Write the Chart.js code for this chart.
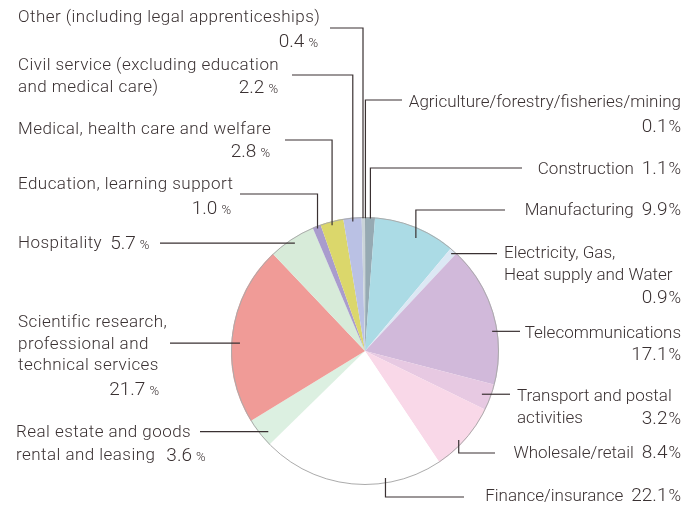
<!DOCTYPE html>
<html>
<head>
<meta charset="utf-8">
<script src="https://cdn.jsdelivr.net/npm/chart.js@4.4.1/dist/chart.umd.min.js"></script>
<style>
html,body{margin:0;padding:0;background:#fff;}
#wrap{width:687px;height:509px;position:relative;}
</style>
</head>
<body>
<div id="wrap"><canvas id="c" width="687" height="509"></canvas></div>
<script>
// ---- data ----
const categories = [
  ["Agriculture/forestry/fisheries/mining"],
  ["Construction"],
  ["Manufacturing"],
  ["Electricity, Gas,", "Heat supply and Water"],
  ["Telecommunications"],
  ["Transport and postal", "activities"],
  ["Wholesale/retail"],
  ["Finance/insurance"],
  ["Real estate and goods", "rental and leasing"],
  ["Scientific research,", "professional and", "technical services"],
  ["Hospitality"],
  ["Education, learning support"],
  ["Medical, health care and welfare"],
  ["Civil service (excluding education", "and medical care)"],
  ["Other (including legal apprenticeships)"]
];
const shares = [0.1, 1.1, 9.9, 0.9, 17.1, 3.2, 8.4, 22.1, 3.6, 21.7, 5.7, 1.0, 2.8, 2.2, 0.4];
const shareLabels = ["0.1", "1.1", "9.9", "0.9", "17.1", "3.2", "8.4", "22.1", "3.6", "21.7", "5.7", "1.0", "2.8", "2.2", "0.4"];
const sliceColors = ["#7e939b", "#96aab3", "#abdbe5", "#dce8f4", "#d1b9da", "#e7c9e2", "#f9d8e8", "#ffffff",
                     "#dcf0e1", "#f09b97", "#d7ebd9", "#a99ccd", "#dbd76b", "#bac1e4", "#cad4d9"];

// ---- label layout (positions only) ----
const R_PCT = {size:17, sep:1};
const L_PCT = {size:13, sep:4};
const R_SP = '0px', L_SP = '0.45px';
const layout = [
  {x:681, align:'right', sp:R_SP, ys:[107], pct:{x:681, y:132, align:'right', st:R_PCT}, lead:{f:0.5, rf:0.99, type:'v', ey:100, ex:402}},
  {inlineRight:true, sp:R_SP, ys:[174], pct:{x:681, y:174, align:'right', st:R_PCT}, lead:{f:0.5, rf:0.99, type:'v', ey:168, ex:522}},
  {inlineRight:true, sp:R_SP, ys:[215], pct:{x:681, y:215, align:'right', st:R_PCT}, lead:{f:0.56, rf:0.925, type:'v', ey:210, ex:505}},
  {x:504, align:'left', sp:R_SP, ys:[258, 280], pct:{x:681, y:303, align:'right', st:R_PCT}, lead:{f:0.5, rf:0.97, type:'h', ex:497}},
  {x:681, align:'right', sp:R_SP, ys:[338], pct:{x:681, y:360, align:'right', st:R_PCT}, lead:{f:0.62, rf:0.96, type:'h', ex:520}},
  {x:517, align:'left', sp:R_SP, ys:[401, 423], pct:{x:681, y:424, align:'right', st:R_PCT}, lead:{f:0.5, rf:0.93, type:'h', ex:510}},
  {inlineRight:true, sp:R_SP, ys:[458], pct:{x:681, y:458, align:'right', st:R_PCT}, lead:{f:0.58, rf:0.965, type:'v', ey:453, ex:495}},
  {inlineRight:true, sp:R_SP, ys:[501], pct:{x:681, y:501, align:'right', st:R_PCT}, lead:{f:0.31, rf:0.96, type:'v', ey:497, ex:464}},
  {x:16, align:'left', sp:L_SP, ys:[437, 460], inlineLeft:true, gap:11, pct:{y:461, st:L_PCT}, lead:{f:0.35, rf:0.94, type:'h', ex:200}},
  {x:18, align:'left', sp:L_SP, ys:[327, 349, 370], pct:{x:159, y:395, align:'right', st:L_PCT}, lead:{f:0.45, rf:0.935, type:'h', ex:170}},
  {x:18, align:'left', sp:L_SP, ys:[248], inlineLeft:true, gap:8, pct:{y:249, st:L_PCT}, lead:{f:0.51, rf:0.96, type:'h', ex:160}},
  {x:18, align:'left', sp:L_SP, ys:[189], pct:{x:231, y:214, align:'right', st:L_PCT}, lead:{f:0.5, rf:0.98, type:'v', ey:194, ex:240}},
  {x:18, align:'left', sp:L_SP, ys:[134], pct:{x:270, y:157, align:'right', st:L_PCT}, lead:{f:0.47, rf:0.97, type:'v', ey:140, ex:285}},
  {x:18, align:'left', sp:L_SP, ys:[70, 92], pct:{x:278, y:93, align:'right', st:L_PCT}, lead:{f:0.5, rf:0.97, type:'v', ey:75, ex:292}},
  {x:18, align:'left', sp:L_SP, ys:[22], pct:{x:318, y:47, align:'right', st:L_PCT}, lead:{f:0.4, rf:0.99, type:'v', ey:28, ex:330}}
];

const FAM = "'Roboto', 'Liberation Sans', sans-serif";
const TXT = '300 17px ' + FAM;
const NUM = '300 19px ' + FAM;
const INK = '#3a3132';

function drawPct(ctx, label, x, y, align, st) {
  ctx.letterSpacing = '0px';
  const pf = '300 ' + st.size + 'px ' + FAM;
  ctx.font = NUM; const wn = ctx.measureText(label).width;
  ctx.font = pf; const wp = ctx.measureText('%').width;
  const total = wn + st.sep + wp;
  const left = align === 'right' ? x - total : x;
  ctx.textAlign = 'left';
  ctx.font = NUM; ctx.fillText(label, left, y);
  ctx.font = pf; ctx.fillText('%', left + wn + st.sep, y);
  return {left, right: left + total};
}

function setText(ctx, align, sp) {
  ctx.font = TXT;
  ctx.letterSpacing = sp;
  ctx.textAlign = align;
}

const labelPlugin = {
  id: 'labels',
  afterDatasetsDraw(chart) {
    const ctx = chart.ctx;
    const arcs = chart.getDatasetMeta(0).data;
    // outer rim
    const a0 = arcs[0];
    ctx.save();
    ctx.beginPath();
    ctx.arc(a0.x, a0.y, a0.outerRadius - 0.5, 0, Math.PI * 2);
    ctx.strokeStyle = '#ababab';
    ctx.lineWidth = 1;
    ctx.stroke();
    ctx.restore();

    ctx.save();
    ctx.fillStyle = INK;
    ctx.strokeStyle = INK;
    ctx.lineWidth = 1.2;
    ctx.textBaseline = 'alphabetic';
    arcs.forEach((arc, i) => {
      const L = layout[i];
      const lines = chart.data.labels[i];
      const pl = shareLabels[i];
      // leader line anchored on the slice geometry
      const ang = arc.startAngle + (arc.endAngle - arc.startAngle) * L.lead.f;
      const r = arc.outerRadius * L.lead.rf;
      const px = arc.x + Math.cos(ang) * r;
      const py = arc.y + Math.sin(ang) * r;
      ctx.beginPath();
      ctx.moveTo(px, py);
      if (L.lead.type === 'v') {
        ctx.lineTo(px, L.lead.ey);
        ctx.lineTo(L.lead.ex, L.lead.ey);
      } else {
        ctx.lineTo(L.lead.ex, py);
      }
      ctx.stroke();
      // text
      if (L.inlineRight) {
        const p = drawPct(ctx, pl, L.pct.x, L.pct.y, 'right', L.pct.st);
        setText(ctx, 'right', L.sp);
        ctx.fillText(lines[0], p.left - 8, L.ys[0]);
      } else {
        lines.forEach((t, k) => { setText(ctx, L.align, L.sp); ctx.fillText(t, L.x, L.ys[k]); });
        if (L.inlineLeft) {
          setText(ctx, 'left', L.sp);
          const w = ctx.measureText(lines[lines.length - 1]).width;
          drawPct(ctx, pl, L.x + w + L.gap, L.pct.y, 'left', L.pct.st);
        } else {
          drawPct(ctx, pl, L.pct.x, L.pct.y, L.pct.align, L.pct.st);
        }
      }
    });
    ctx.restore();
  }
};

new Chart(document.getElementById('c'), {
  type: 'pie',
  data: {
    labels: categories,
    datasets: [{
      data: shares,
      backgroundColor: sliceColors,
      borderWidth: 0
    }]
  },
  options: {
    responsive: false,
    animation: false,
    layout: { padding: { left: 231, right: 188, top: 217, bottom: 24 } },
    plugins: { legend: { display: false }, tooltip: { enabled: false } }
  },
  plugins: [labelPlugin]
});
</script>
</body>
</html>
